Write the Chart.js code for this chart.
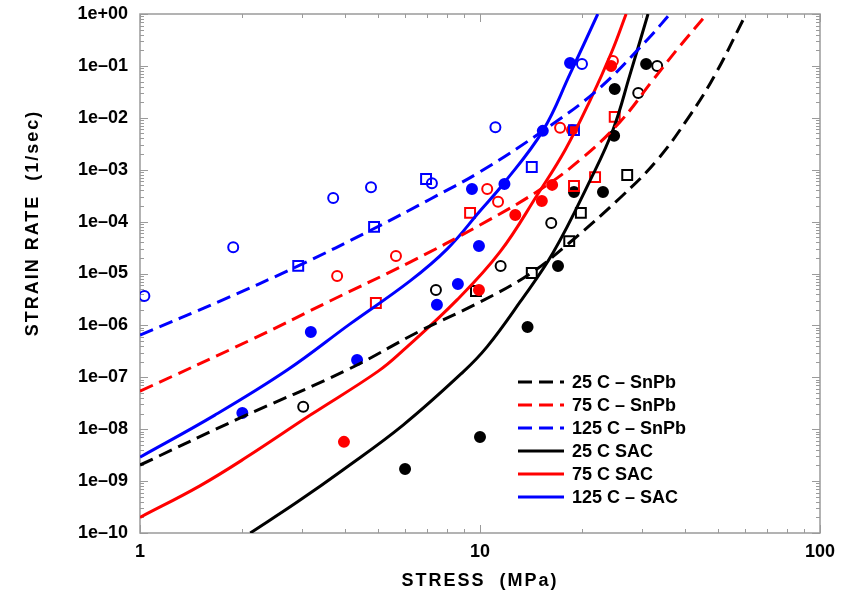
<!DOCTYPE html>
<html lang="en">
<head>
    <meta charset="UTF-8">
    <title>Strain rate vs stress</title>
    <script src="https://cdn.jsdelivr.net/npm/chart.js@4"></script>
    <style>
        body { margin: 0; background: #fff; }
    </style>
</head>
<body>

    <canvas id="myChart" width="855" height="593"></canvas>

    <script>
        // fitted curves: [stress (MPa), strain rate (1/sec)]
        const fitSnPb25 = [[1, 2.04e-9], [1.97, 1.65e-8], [4.06, 1.38e-7], [6.66, 7.8e-7], [10, 2.82e-6], [14.0, 9.8e-6],
            [18.3, 3.87e-5], [25.8, 2.85e-4], [33.2, 1.54e-3], [41.5, 1.13e-2], [49.1, 6.7e-2], [59.4, 0.77]];
        const fitSnPb75 = [[1, 5.4e-8], [2.11, 5.2e-7], [3.62, 2.95e-6], [6.23, 1.66e-5], [10, 8.6e-5], [15.0, 4.1e-4],
            [19.7, 1.55e-3], [25.8, 8.3e-3], [32.3, 5.4e-2], [38.7, 0.24], [46.5, 1]];
        const fitSnPb125 = [[1, 6.5e-7], [1.72, 2.95e-6], [2.92, 1.4e-5], [4.85, 7.2e-5], [7.13, 2.7e-4], [10, 9.1e-4],
            [15.3, 5.6e-3], [22.1, 3.4e-2], [31.0, 0.316], [36.2, 1]];
        const fitSac25 = [[2.11, 1e-10], [2.90, 3.95e-10], [3.95, 1.64e-9], [5.94, 1.2e-8], [8.91, 1.26e-7], [10.5, 3.9e-7],
            [13.1, 2.8e-6], [16.4, 2.5e-5], [21.1, 6.3e-4], [24.6, 5.8e-3], [27.6, 6.7e-2], [31.2, 1]];
        const fitSac75 = [[1, 2.0e-10], [1.50, 8.1e-10], [2.06, 2.9e-9], [3.16, 1.85e-8], [5.01, 1.3e-7], [5.94, 3.3e-7],
            [8.56, 3.1e-6], [11.45, 2.6e-5], [14.8, 3.4e-4], [17.8, 2.4e-3], [21.1, 2.2e-2], [24.4, 0.185], [26.9, 1]];
        const fitSac125 = [[1, 2.9e-9], [1.66, 1.87e-8], [2.71, 1.38e-7], [4.15, 1.07e-6], [6.23, 7.2e-6], [8.0, 2.95e-5],
            [10, 1.6e-4], [11.7, 5.3e-4], [15.3, 5.6e-3], [18.4, 7.0e-2], [22.2, 1]];

        // measured points
        const snpb125Circles = [[1.03, 3.7e-6], [1.88, 3.2e-5], [3.70, 2.85e-4], [4.78, 4.6e-4], [7.22, 5.5e-4], [11.1, 6.6e-3], [19.95, 0.109]];
        const snpb125Squares = [[2.92, 1.4e-5], [4.88, 7.9e-5], [6.94, 6.6e-4], [14.2, 1.13e-3], [18.9, 5.8e-3]];
        const sac125Dots = [[2.0, 2.05e-8], [3.18, 7.5e-7], [4.35, 2.15e-7], [7.47, 2.5e-6], [8.61, 6.3e-6], [9.47, 4.25e-4],
            [9.93, 3.4e-5], [11.8, 5.3e-4], [15.3, 5.6e-3], [18.4, 0.114]];
        const snpb75Circles = [[3.80, 8.95e-6], [5.66, 2.17e-5], [10.5, 4.25e-4], [11.3, 2.4e-4], [17.2, 6.4e-3], [24.6, 0.124]];
        const snpb75Squares = [[4.94, 2.7e-6], [9.35, 1.47e-4], [18.9, 4.85e-4], [21.8, 7.2e-4], [24.9, 1.04e-2]];
        const sac75Dots = [[3.98, 5.7e-9], [9.93, 4.8e-6], [12.7, 1.34e-4], [15.2, 2.5e-4], [16.3, 5.1e-4], [18.65, 5.8e-3], [24.3, 0.1]];
        const snpb25Circles = [[3.02, 2.7e-8], [7.42, 4.8e-6], [11.5, 1.4e-5], [16.2, 9.4e-5], [29.2, 3.0e-2], [33.2, 0.1]];
        const snpb25Squares = [[9.73, 4.6e-6], [14.2, 1.02e-5], [18.3, 4.2e-5], [19.8, 1.47e-4], [27.1, 7.9e-4]];
        const sac25Dots = [[6.02, 1.71e-9], [10, 7.1e-9], [13.8, 9.3e-7], [16.96, 1.4e-5], [18.9, 3.7e-4], [23.0, 3.7e-4],
            [24.8, 4.5e-3], [24.9, 3.6e-2], [30.8, 0.109]];

        const xTicks = [1, 10, 100];
        const yTicks = [1e-10, 1e-9, 1e-8, 1e-7, 1e-6, 1e-5, 1e-4, 1e-3, 1e-2, 1e-1, 1];

        const BLACK = '#000000', RED = '#ff0000', BLUE = '#0000ff';
        const FONT = { family: 'Liberation Sans', size: 18, weight: 'bold' };
        const DASH = [14, 7];

        const pts = arr => arr.map(([x, y]) => ({ x: x, y: y }));

        function fit(label, data, color, dashed) {
            return {
                label: label, data: pts(data), showLine: true, isFit: true,
                borderColor: color, borderWidth: 3, borderDash: dashed ? DASH : [],
                pointRadius: 0, tension: 0.4, order: 1
            };
        }
        function marks(label, data, color, style, filled) {
            return {
                label: label, data: pts(data), showLine: false,
                pointStyle: style, pointRadius: style === 'rect' ? 7 : 5,
                pointBorderWidth: 2, borderColor: color, pointBorderColor: color,
                backgroundColor: filled ? color : 'rgba(0,0,0,0)',
                pointBackgroundColor: filled ? color : 'rgba(0,0,0,0)', order: 2
            };
        }

        // frame with inward major/minor ticks on all four sides
        const frameTicks = {
            id: 'frameTicks',
            beforeDatasetsDraw(chart) {
                const { ctx, chartArea: a, scales: { x, y } } = chart;
                ctx.save();
                ctx.strokeStyle = '#9a9a9a';
                ctx.lineWidth = 1.5;
                ctx.strokeRect(a.left, a.top, a.right - a.left, a.bottom - a.top);
                ctx.lineWidth = 1;
                ctx.beginPath();
                for (let e = -10; e <= 0; e++) {
                    for (let m = 1; m <= 9; m++) {
                        const v = m * Math.pow(10, e);
                        if (v > 1.0001) break;
                        const py = Math.round(y.getPixelForValue(v)) + 0.5;
                        const len = m === 1 ? 8 : 4;
                        ctx.moveTo(a.left, py); ctx.lineTo(a.left + len, py);
                        ctx.moveTo(a.right, py); ctx.lineTo(a.right - len, py);
                    }
                }
                for (let e = 0; e <= 2; e++) {
                    for (let m = 1; m <= 9; m++) {
                        const v = m * Math.pow(10, e);
                        if (v > 100.01) break;
                        const px = Math.round(x.getPixelForValue(v)) + 0.5;
                        const len = m === 1 ? 8 : 4;
                        ctx.moveTo(px, a.top); ctx.lineTo(px, a.top + len);
                        ctx.moveTo(px, a.bottom); ctx.lineTo(px, a.bottom - len);
                    }
                }
                ctx.stroke();
                ctx.restore();
            }
        };

        // legend inside the plot and the spaced axis titles
        const legendAndTitles = {
            id: 'legendAndTitles',
            afterDraw(chart) {
                const { ctx, chartArea: a } = chart;
                ctx.save();
                ctx.font = 'bold 18px "Liberation Sans"';
                ctx.fillStyle = '#000';
                ctx.textBaseline = 'middle';
                const fits = chart.data.datasets.filter(d => d.isFit);
                fits.forEach((d, i) => {
                    const yy = a.bottom - 151 + i * 23;
                    const x0 = a.left + 378;
                    ctx.strokeStyle = d.borderColor;
                    ctx.lineWidth = 3;
                    ctx.setLineDash(d.borderDash);
                    ctx.beginPath();
                    ctx.moveTo(x0, yy); ctx.lineTo(x0 + 46, yy);
                    ctx.stroke();
                    ctx.setLineDash([]);
                    ctx.textAlign = 'left';
                    ctx.fillText(d.label, x0 + 54, yy + 1);
                });

                ctx.letterSpacing = '2px';
                ctx.textAlign = 'center';
                ctx.fillText('STRESS  (MPa)', (a.left + a.right) / 2, 581);
                ctx.translate(33, 223);
                ctx.rotate(-Math.PI / 2);
                ctx.fillText('STRAIN RATE  (1/sec)', 0, 0);
                ctx.restore();
            }
        };

        const ctx = document.getElementById('myChart').getContext('2d');
        new Chart(ctx, {
            type: 'scatter',
            data: {
                datasets: [
                    fit('25 C – SnPb', fitSnPb25, BLACK, true),
                    fit('75 C – SnPb', fitSnPb75, RED, true),
                    fit('125 C – SnPb', fitSnPb125, BLUE, true),
                    fit('25 C SAC', fitSac25, BLACK, false),
                    fit('75 C SAC', fitSac75, RED, false),
                    fit('125 C – SAC', fitSac125, BLUE, false),
                    marks('125 C SnPb o', snpb125Circles, BLUE, 'circle', false),
                    marks('125 C SnPb sq', snpb125Squares, BLUE, 'rect', false),
                    marks('125 C SAC', sac125Dots, BLUE, 'circle', true),
                    marks('75 C SnPb o', snpb75Circles, RED, 'circle', false),
                    marks('75 C SnPb sq', snpb75Squares, RED, 'rect', false),
                    marks('75 C SAC', sac75Dots, RED, 'circle', true),
                    marks('25 C SnPb o', snpb25Circles, BLACK, 'circle', false),
                    marks('25 C SnPb sq', snpb25Squares, BLACK, 'rect', false),
                    marks('25 C SAC', sac25Dots, BLACK, 'circle', true)
                ]
            },
            options: {
                responsive: false,
                animation: false,
                layout: { padding: { top: 14, right: 35, left: 0, bottom: 0 } },
                plugins: {
                    legend: { display: false },
                    tooltip: { enabled: false }
                },
                scales: {
                    x: {
                        type: 'logarithmic',
                        min: 1, max: 100,
                        afterBuildTicks: s => { s.ticks = xTicks.map(v => ({ value: v })); },
                        afterFit: s => { s.height = 60; s.paddingLeft = 0; s.paddingRight = 0; },
                        grid: { display: false, drawTicks: false },
                        border: { display: false },
                        ticks: {
                            font: FONT, color: '#000', padding: 8,
                            maxRotation: 0, autoSkip: false,
                            callback: v => String(v)
                        }
                    },
                    y: {
                        type: 'logarithmic',
                        min: 1e-10, max: 1,
                        afterBuildTicks: s => { s.ticks = yTicks.map(v => ({ value: v })); },
                        afterFit: s => { s.width = 140; s.paddingTop = 0; s.paddingBottom = 0; },
                        grid: { display: false, drawTicks: false },
                        border: { display: false },
                        ticks: {
                            font: FONT, color: '#000', padding: 12, autoSkip: false,
                            callback: v => {
                                const e = Math.round(Math.log10(v));
                                return '1e' + (e < 0 ? '–' : '+') + String(Math.abs(e)).padStart(2, '0');
                            }
                        }
                    }
                }
            },
            plugins: [frameTicks, legendAndTitles]
        });
    </script>

</body>
</html>
